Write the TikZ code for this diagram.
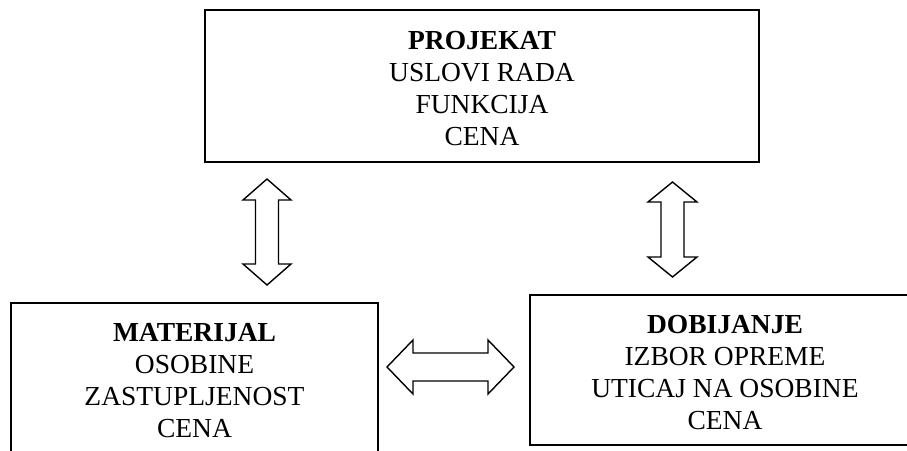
\documentclass[tikz,border=0pt]{standalone}
\usepackage{fontspec}
\setmainfont{Liberation Serif}
\tikzset{
  box/.style={draw, line width=1.8pt, align=center, inner sep=0pt,
    font=\fontsize{27.5}{32.3}\selectfont},
  blockarr/.style={draw, line width=1.4pt, line join=miter, fill=white}
}
% #1 centre, #2 rotation, #3 length, #4 head length, #5 head width, #6 shaft width
\newcommand{\dblblockarrow}[6]{%
  \draw[blockarr, shift={(#1)}, rotate=#2]
    ({-#3/2},0) -- ({-#3/2+#4},{#5/2}) -- ({-#3/2+#4},{#6/2})
    -- ({#3/2-#4},{#6/2}) -- ({#3/2-#4},{#5/2}) -- ({#3/2},0)
    -- ({#3/2-#4},{-#5/2}) -- ({#3/2-#4},{-#6/2}) -- ({-#3/2+#4},{-#6/2})
    -- ({-#3/2+#4},{-#5/2}) -- cycle;}
\begin{document}
\begin{tikzpicture}[x=1pt, y=-1pt]
  \useasboundingbox (0,0) rectangle (907,450);
  \clip (0,0) rectangle (907,450);

  \node[box, minimum width=554pt, minimum height=152pt] (proj) at (482,86)
    {\rule{0pt}{23.3pt}\textbf{PROJEKAT}\\USLOVI RADA\\FUNKCIJA\\CENA};
  \node[box, minimum width=367pt, minimum height=150pt] (mat) at (194.5,378)
    {\rule{0pt}{23.3pt}\textbf{MATERIJAL}\\OSOBINE\\ZASTUPLJENOST\\CENA};
  \node[box, minimum width=390pt, minimum height=150pt] (dob) at (725,370)
    {\rule{0pt}{23.3pt}\textbf{DOBIJANJE}\\IZBOR OPREME\\UTICAJ NA OSOBINE\\CENA};

  \coordinate (projmat) at (267,232);
  \coordinate (projdob) at (672.5,229.5);
  \coordinate (matdob) at (450.5,367);

  \dblblockarrow{projmat}{90}{106}{21}{48}{23}
  \dblblockarrow{projdob}{90}{95}{20}{49}{23}
  \dblblockarrow{matdob}{0}{127}{26}{54}{28}
\end{tikzpicture}
\end{document}
